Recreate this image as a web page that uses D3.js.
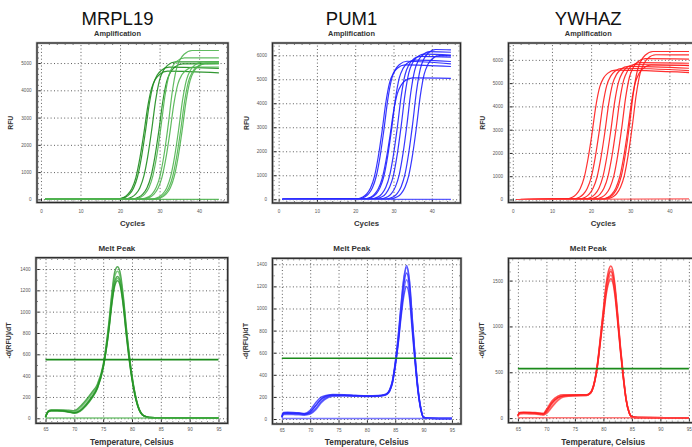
<!DOCTYPE html>
<html>
<head>
<meta charset="utf-8">
<script src="https://cdn.jsdelivr.net/npm/d3@7.9.0/dist/d3.min.js"></script>
<style>
  body { margin: 0; background: #fff; }
  svg { display: block; }
  text { font-family: "Liberation Sans", Arial, sans-serif; }
</style>
</head>
<body>
<svg id="chart" width="692" height="447"></svg>
<script>
// ---- data ----
const genes = ["MRPL19", "PUM1", "YWHAZ"];

// amplification: [cycle, RFU] per well
const mrpl19Amp = [
  [[1,0],[19,10],[21,80],[22,190],[23,400],[24,800],[25,1500],[26,2400],[27,3400],[28,4089],[29,4418],[30,4583],[32,4700],[45,4640]],
  [[1,0],[19.4,10],[21.4,82],[22.4,195],[23.4,410],[24.4,820],[25.4,1530],[26.4,2470],[27.4,3500],[28.4,4220],[29.4,4559],[30.4,4729],[32.4,4850],[45,4800]],
  [[1,0],[21,10],[23,85],[24,200],[25,420],[26,840],[27,1570],[28,2540],[29,3629],[30,4385],[31,4738],[32,4914],[34,5040],[45,5040]],
  [[1,0],[22.8,10],[24.8,84],[25.8,198],[26.8,415],[27.8,830],[28.8,1550],[29.8,2500],[30.8,3578],[31.8,4324],[32.8,4672],[33.8,4846],[35.8,4970],[45,4980]],
  [[1,0],[23.3,10],[25.3,88],[26.3,205],[27.3,430],[28.3,865],[29.3,1610],[30.3,2610],[31.3,3737],[32.3,4515],[33.3,4879],[34.3,5060],[36.3,5190],[45,5190]],
  [[1,0],[25.2,10],[27.2,92],[28.2,215],[29.2,455],[30.2,910],[31.2,1700],[32.2,2750],[33.2,3931],[34.2,4750],[35.2,5132],[36.2,5324],[38.2,5460],[45,5460]],
  [[1,0],[25.6,10],[27.6,82],[28.6,195],[29.6,405],[30.6,810],[31.6,1510],[32.6,2440],[33.6,3492],[34.6,4220],[35.6,4559],[36.6,4729],[38.6,4850],[45,4850]],
  [[1,0],[27.8,10],[29.8,85],[30.8,200],[31.8,420],[32.8,840],[33.8,1570],[34.8,2540],[35.8,3629],[36.8,4385],[37.8,4738],[38.8,4914],[40.8,5040],[45,5050]],
  [[1,0],[28.3,10],[30.3,84],[31.3,198],[32.3,415],[33.3,830],[34.3,1550],[35.3,2500],[36.3,3578],[37.3,4324],[38.3,4672],[39.3,4846],[41.3,4970],[45,4980]],
  [[1,0],[28.7,10],[30.7,85],[31.7,200],[32.7,418],[33.7,835],[34.7,1560],[35.7,2520],[36.7,3600],[37.7,4350],[38.7,4700],[39.7,4875],[41.7,5000],[45,5010]],
  [[1,0],[45,0]]
];
const mrpl19Shade = [0,0,0,0,1,1,1,1,1,1,1];

const pum1Amp = [
  [[1,0],[20,12],[22,95],[23,220],[24,470],[25,935],[26,1750],[27,2820],[28,4032],[29,4872],[30,5264],[31,5460],[33,5600],[45,5530]],
  [[1,0],[20.5,12],[22.5,98],[23.5,226],[24.5,480],[25.5,960],[26.5,1790],[27.5,2895],[28.5,4140],[29.5,5003],[30.5,5405],[31.5,5606],[33.5,5750],[45,5640]],
  [[1,0],[22,10],[24,86],[25,200],[26,424],[27,845],[28,1580],[29,2550],[30,3643],[31,4402],[32,4756],[33,4934],[35,5060],[45,5040]],
  [[1,0],[22.5,12],[24.5,99],[25.5,230],[26.5,485],[27.5,970],[28.5,1810],[29.5,2920],[30.5,4176],[31.5,5046],[32.5,5452],[33.5,5655],[35.5,5800],[45,5740]],
  [[1,0],[24,12],[26,101],[27,236],[28,500],[29,995],[30,1860],[31,2995],[32,4284],[33,5177],[34,5593],[35,5801],[37,5950],[45,5920]],
  [[1,0],[25,12],[27,103],[28,240],[29,508],[30,1010],[31,1890],[32,3045],[33,4356],[34,5264],[35,5687],[36,5899],[38,6050],[45,6010]],
  [[1,0],[26.5,12],[28.5,105],[29.5,244],[30.5,516],[31.5,1030],[32.5,1920],[33.5,3095],[34.5,4428],[35.5,5351],[36.5,5781],[37.5,5996],[39.5,6150],[45,6125]],
  [[1,0],[28,12],[30,106],[31,248],[32,524],[33,1045],[34,1950],[35,3140],[36,4493],[37,5429],[38,5866],[39,6084],[41,6240],[45,6220]],
  [[1,0],[29,12],[31,102],[32,238],[33,502],[34,1000],[35,1870],[36,3010],[37,4306],[38,5203],[39,5621],[40,5831],[42,5980],[45,5980]],
  [[1,0],[45,0]]
];
const pum1Shade = [0,0,0,0,0,0,0,0,0,1];

const ywhazAmp = [
  [[1,0],[13.2,12],[15.2,95],[16.2,220],[17.2,465],[18.2,925],[19.2,1740],[20.2,2800],[21.2,4003],[22.2,4837],[23.2,5226],[24.2,5421],[26.2,5560],[45,5455]],
  [[1,0],[15,12],[17,96],[18,224],[19,472],[20,940],[21,1760],[22,2840],[23,4061],[24,4907],[25,5302],[26,5499],[28,5640],[45,5540]],
  [[1,0],[16.5,12],[18.5,97],[19.5,228],[20.5,480],[21.5,955],[22.5,1790],[23.5,2880],[24.5,4118],[25.5,4976],[26.5,5377],[27.5,5577],[29.5,5720],[45,5640]],
  [[1,0],[18,12],[20,99],[21,231],[22,486],[23,970],[24,1815],[25,2920],[26,4176],[27,5046],[28,5452],[29,5655],[31,5800],[45,5755]],
  [[1,0],[19.3,12],[21.3,100],[22.3,234],[23.3,494],[24.3,985],[25.3,1840],[26.3,2960],[27.3,4234],[28.3,5116],[29.3,5527],[30.3,5733],[32.3,5880],[45,5855]],
  [[1,0],[20.8,12],[22.8,103],[23.8,240],[24.8,508],[25.8,1010],[26.8,1895],[27.8,3045],[28.8,4356],[29.8,5264],[30.8,5687],[31.8,5899],[33.8,6050],[45,6030]],
  [[1,0],[22.3,12],[24.3,98],[25.3,229],[26.3,484],[27.3,965],[28.3,1810],[29.3,2910],[30.3,4162],[31.3,5029],[32.3,5433],[33.3,5636],[35.3,5780],[45,5760]],
  [[1,0],[22.8,12],[24.8,108],[25.8,252],[26.8,534],[27.8,1065],[28.8,1990],[29.8,3200],[30.8,4579],[31.8,5533],[32.8,5978],[33.8,6201],[35.8,6360],[45,6360]],
  [[1,0],[23.5,12],[25.5,106],[26.5,246],[27.5,522],[28.5,1040],[29.5,1945],[30.5,3130],[31.5,4478],[32.5,5411],[33.5,5847],[34.5,6065],[36.5,6220],[45,6215]],
  [[1,0],[45,30]]
];
const ywhazShade = [0,0,0,0,0,0,0,0,0,1];

// melt peak: temperatures and -d(RFU)/dT per well
const mrpl19Temps = [65,65.5,66,67,68,69,70,71,72,73,74,75,76,76.5,77,77.5,78,78.5,79,80,81,82,83,85,95];
const mrpl19Melt = [
  [15,70,78,78,78,75,70,110,170,240,320,500,900,1170,1370,1420,1350,1140,860,400,125,25,8,5,3],
  [12,68,75,75,74,70,62,95,155,225,305,490,880,1140,1330,1380,1310,1110,840,390,122,25,8,5,3],
  [10,65,72,72,70,62,52,75,130,200,290,480,850,1100,1280,1330,1270,1080,820,380,120,25,8,5,3],
  [8,60,68,68,66,58,48,65,115,185,280,470,840,1080,1260,1310,1250,1060,800,370,115,24,8,5,3],
  [10,62,70,70,68,60,50,70,120,190,285,475,830,1070,1240,1290,1230,1050,790,365,112,24,8,5,3],
  [3,3,3,3,3,3,3,3,3,3,3,3,3,3,3,3,3,3,3,3,3,3,3,3,3]
];

const pum1Temps = [65,65.3,66,67,68,69,70,71,72,73,74,76,78,80,82,83,83.5,84,84.5,85,85.5,86,86.5,87,87.5,88,88.5,89,89.5,90,91,95];
const pum1Melt = [
  [30,60,62,60,56,50,80,150,200,215,222,220,214,210,212,220,230,265,345,510,735,1020,1270,1390,1260,915,570,285,100,15,6,4],
  [20,50,52,50,48,42,60,120,180,205,215,215,210,208,210,218,228,260,340,500,720,1000,1250,1370,1240,900,560,280,100,15,6,4],
  [15,45,48,46,44,40,50,95,160,195,210,212,208,206,208,215,225,255,330,490,700,970,1210,1320,1200,870,545,270,95,14,6,4],
  [12,40,42,40,38,35,45,85,150,190,205,208,205,204,206,213,222,250,325,480,680,940,1160,1260,1150,840,530,265,92,14,6,4],
  [18,55,56,54,52,46,65,125,185,210,218,216,211,207,209,216,226,255,330,480,670,910,1110,1200,1100,800,510,255,90,14,6,4],
  [5,5,5,5,5,5,5,5,5,5,5,5,5,5,5,5,5,5,5,5,5,5,5,5,5,5,5,5,5,5,5,5]
];

const ywhazTemps = [65,65.3,66,67,68,69,69.5,70,71,72,73,75,77,77.5,78,78.5,79,79.5,80,80.5,81,81.3,81.7,82,82.5,83,83.5,84,84.5,85,86,95];
const ywhazMelt = [
  [30,62,65,63,60,55,52,95,190,240,255,255,255,268,308,420,620,900,1190,1470,1630,1660,1600,1470,1140,775,465,205,66,15,6,4],
  [20,50,52,50,47,40,36,55,130,200,235,245,248,260,302,412,605,880,1165,1440,1590,1620,1560,1435,1115,760,455,202,65,15,6,4],
  [25,55,58,56,52,45,42,70,160,220,242,248,250,262,300,410,600,870,1150,1420,1570,1600,1540,1420,1100,750,450,200,65,15,6,4],
  [15,45,48,46,44,38,35,50,120,190,230,243,246,258,295,400,585,850,1120,1385,1530,1560,1500,1385,1075,735,440,195,63,15,6,4],
  [28,58,60,58,55,48,45,80,170,225,245,250,252,262,298,405,590,845,1100,1350,1490,1520,1465,1350,1050,720,430,190,62,15,6,4],
  [5,5,5,5,5,5,5,5,5,5,5,5,5,5,5,5,5,5,5,5,5,5,5,5,5,5,5,5,5,5,5,5]
];

const meltThreshold = [550, 550, 540];

const ampXTicks = [0, 10, 20, 30, 40];
const ampXMinor = [2,4,6,8,12,14,16,18,22,24,26,28,32,34,36,38,42,44,46];
const mrpl19AmpYTicks = [0, 1000, 2000, 3000, 4000, 5000];
const sixKTicks = [0, 1000, 2000, 3000, 4000, 5000, 6000];
const meltXTicks = [65, 70, 75, 80, 85, 90, 95];
const meltXMinor = [64,66,67,68,69,71,72,73,74,76,77,78,79,81,82,83,84,86,87,88,89,91,92,93,94,96];
const meltYTicks14 = [0, 200, 400, 600, 800, 1000, 1200, 1400];
const meltYTicks15 = [0, 500, 1000, 1500];

// ---- layout ----
const palette = [
  ["#1c8c1c", "#4fb44f"],
  ["#1f1fff", "#4a4aff"],
  ["#ff1a1a", "#ff4a4a"]
];

const ampPanels = [
  { box: [37, 43, 228, 202.5], xDom: [-1.0, 47.3], yDom: [-115, 5735], yTicks: mrpl19AmpYTicks, yMinorStep: 200, curves: mrpl19Amp, shade: mrpl19Shade },
  { box: [272.5, 43, 460.5, 203], xDom: [-1.6, 47.5], yDom: [-155, 6510], yTicks: sixKTicks, yMinorStep: 200, curves: pum1Amp, shade: pum1Shade },
  { box: [508.5, 43, 698, 202.5], xDom: [-1.1, 47.3], yDom: [-130, 6725], yTicks: sixKTicks, yMinorStep: 200, curves: ywhazAmp, shade: ywhazShade }
];
const meltPanels = [
  { box: [36, 257.7, 227.7, 423.3], yDom: [-47, 1506], yTicks: meltYTicks14, yMinorStep: 100, temps: mrpl19Temps, melt: mrpl19Melt },
  { box: [272.5, 258.3, 461, 424], yDom: [-45, 1454], yTicks: meltYTicks14, yMinorStep: 100, temps: pum1Temps, melt: pum1Melt },
  { box: [508.5, 258.3, 698, 422.7], yDom: [-50, 1743], yTicks: meltYTicks15, yMinorStep: 100, temps: ywhazTemps, melt: ywhazMelt }
];
const meltXDom = [63.35, 96.6];
const titleShift = -15;   // panel titles sit over the whole panel, not the plot box

const svg = d3.select("#chart");

function drawFrame(g, x, y, xTicks, xMinor, yTicks, yMinor, labelPadX, labelPadY) {
  const [x0, x1] = x.range();
  const [y1, y0] = y.range();
  // grid
  g.append("g").attr("transform", `translate(0,${y1})`)
    .call(d3.axisBottom(x).tickValues(xTicks).tickSize(-(y1 - y0)).tickFormat(""))
    .call(a => a.select(".domain").remove())
    .selectAll("line").attr("stroke", "#333").attr("stroke-width", 0.8).attr("stroke-dasharray", "1,2.4");
  g.append("g").attr("transform", `translate(${x0},0)`)
    .call(d3.axisLeft(y).tickValues(yTicks).tickSize(-(x1 - x0)).tickFormat(""))
    .call(a => a.select(".domain").remove())
    .selectAll("line").attr("stroke", "#333").attr("stroke-width", 0.8).attr("stroke-dasharray", "1,2.4");

  // minor ticks on all sides, inward
  const sides = [
    [d3.axisBottom(x).tickValues(xMinor), `translate(0,${y1})`],
    [d3.axisTop(x).tickValues(xMinor), `translate(0,${y0})`],
    [d3.axisLeft(y).tickValues(yMinor), `translate(${x0},0)`],
    [d3.axisRight(y).tickValues(yMinor), `translate(${x1},0)`]
  ];
  sides.forEach(([ax, tr]) => {
    g.append("g").attr("transform", tr)
      .call(ax.tickSize(-2).tickFormat(""))
      .call(a => a.select(".domain").remove())
      .selectAll("line").attr("stroke", "#333").attr("stroke-width", 0.8);
  });

  // major ticks + labels
  const bx = g.append("g").attr("transform", `translate(0,${y1})`)
    .call(d3.axisBottom(x).tickValues(xTicks).tickSize(-3.5).tickSizeOuter(0).tickPadding(labelPadX).tickFormat(d3.format("d")));
  const ly = g.append("g").attr("transform", `translate(${x0},0)`)
    .call(d3.axisLeft(y).tickValues(yTicks).tickSize(-3.5).tickSizeOuter(0).tickPadding(labelPadY).tickFormat(d3.format("d")));
  [bx, ly].forEach(a => {
    a.select(".domain").remove();
    a.selectAll("line").attr("stroke", "#222").attr("stroke-width", 1);
    a.selectAll("text").attr("font-size", 4.6).attr("fill", "#555")
      .attr("font-family", "\"Liberation Sans\", Arial, sans-serif");
  });

  // frame
  g.append("rect")
    .attr("x", x0).attr("y", y0).attr("width", x1 - x0).attr("height", y1 - y0)
    .attr("fill", "none").attr("stroke", "#bbb").attr("stroke-width", 2.6);
  g.append("rect")
    .attr("x", x0).attr("y", y0).attr("width", x1 - x0).attr("height", y1 - y0)
    .attr("fill", "none").attr("stroke", "#2a2a2a").attr("stroke-width", 1.3);
}

// ---- amplification row ----
ampPanels.forEach((p, i) => {
  const [x0, y0, x1, y1] = p.box;
  const x = d3.scaleLinear().domain(p.xDom).range([x0, x1]);
  const y = d3.scaleLinear().domain(p.yDom).range([y1, y0]);
  const g = svg.append("g");

  const yMinor = d3.range(0, p.yDom[1], p.yMinorStep).filter(v => !p.yTicks.includes(v));
  drawFrame(g, x, y, ampXTicks, ampXMinor, p.yTicks, yMinor, 6.8, 5.5);

  const line = d3.line().x(d => x(d[0])).y(d => y(d[1])).curve(d3.curveMonotoneX);
  g.append("g").selectAll("path").data(p.curves).join("path")
    .attr("d", line)
    .attr("fill", "none")
    .attr("stroke", (d, k) => palette[i][p.shade[k]])
    .attr("stroke-width", 1.2)
    .attr("stroke-opacity", 0.9);

  const mid = (x0 + x1) / 2;
  svg.append("text").attr("x", mid + titleShift).attr("y", 25)
    .attr("text-anchor", "middle").attr("font-size", 18.5).attr("fill", "#111")
    .text(genes[i]);
  svg.append("text").attr("x", mid + titleShift).attr("y", 36.4)
    .attr("text-anchor", "middle").attr("font-size", 7.4).attr("font-weight", "bold").attr("fill", "#333")
    .text("Amplification");
  svg.append("text").attr("x", mid).attr("y", 226)
    .attr("text-anchor", "middle").attr("font-size", 7.8).attr("font-weight", "bold").attr("fill", "#333")
    .text("Cycles");
  svg.append("text").attr("transform", `translate(${x0 - 24},${(y0 + y1) / 2}) rotate(-90)`)
    .attr("text-anchor", "middle").attr("font-size", 6.8).attr("font-weight", "bold").attr("fill", "#333")
    .text("RFU");
});

// ---- melt peak row ----
meltPanels.forEach((p, i) => {
  const [x0, y0, x1, y1] = p.box;
  const x = d3.scaleLinear().domain(meltXDom).range([x0, x1]);
  const y = d3.scaleLinear().domain(p.yDom).range([y1, y0]);
  const g = svg.append("g");

  const yMinor = d3.range(0, p.yDom[1], p.yMinorStep).filter(v => !p.yTicks.includes(v));
  drawFrame(g, x, y, meltXTicks, meltXMinor, p.yTicks, yMinor, 4.8, 5.5);

  const line = d3.line().x((d, k) => x(p.temps[k])).y(d => y(d)).curve(d3.curveMonotoneX);
  g.append("g").selectAll("path").data(p.melt).join("path")
    .attr("d", line)
    .attr("fill", "none")
    .attr("stroke", (d, k) => palette[i][k % 2])
    .attr("stroke-width", 1.5)
    .attr("stroke-opacity", 0.75);

  g.append("line")
    .attr("x1", x(meltXTicks[0])).attr("x2", x(meltXTicks[meltXTicks.length - 1]))
    .attr("y1", y(meltThreshold[i])).attr("y2", y(meltThreshold[i]))
    .attr("stroke", "#1a8a1a").attr("stroke-width", 1.6);

  const mid = (x0 + x1) / 2;
  svg.append("text").attr("x", mid + titleShift).attr("y", 251)
    .attr("text-anchor", "middle").attr("font-size", 8).attr("font-weight", "bold").attr("fill", "#333")
    .text("Melt Peak");
  svg.append("text").attr("x", mid).attr("y", 445)
    .attr("text-anchor", "middle").attr("font-size", 8.3).attr("font-weight", "bold").attr("fill", "#333")
    .text("Temperature, Celsius");
  svg.append("text").attr("transform", `translate(${x0 - 25},${(y0 + y1) / 2}) rotate(-90)`)
    .attr("text-anchor", "middle").attr("font-size", 7).attr("font-weight", "bold").attr("fill", "#333")
    .text("-d(RFU)/dT");
});
</script>
</body>
</html>
